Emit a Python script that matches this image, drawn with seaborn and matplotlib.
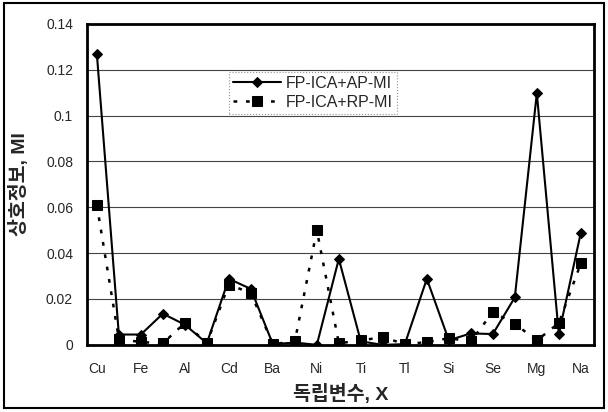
import numpy as np
import pandas as pd
import matplotlib
matplotlib.use("Agg")
import matplotlib.pyplot as plt
import seaborn as sns
from matplotlib.patches import Rectangle

# 독립변수 (every other one is labelled on the axis)
elements = ['Cu', 'Zn', 'Fe', 'Pb', 'Al', 'Cr', 'Cd', 'Mn', 'Ba', 'Co', 'Ni', 'Hg',
            'Ti', 'As', 'Tl', 'V', 'Si', 'Sb', 'Se', 'Ca', 'Mg', 'K', 'Na']
shown_labels = ['Cu', 'Fe', 'Al', 'Cd', 'Ba', 'Ni', 'Ti', 'Tl', 'Si', 'Se', 'Mg', 'Na']

ap_mi = [0.127, 0.0045, 0.0045, 0.0136, 0.0088, 0.0007, 0.0288, 0.0244, 0.0003, 0.001,
         0.0, 0.0375, 0.0015, 0.0, 0.0003, 0.0288, 0.002, 0.005, 0.0047, 0.0207,
         0.1098, 0.0047, 0.0489]
rp_mi = [0.061, 0.0026, 0.0012, 0.0007, 0.0095, 0.0007, 0.0263, 0.0226, 0.0003, 0.0015,
         0.050, 0.0007, 0.0019, 0.0034, 0.0003, 0.0012, 0.0029, 0.0015, 0.0143, 0.0092,
         0.0019, 0.0095, 0.0355]

y_ticks = [0, 0.02, 0.04, 0.06, 0.08, 0.1, 0.12, 0.14]
y_tick_labels = ['0', '0.02', '0.04', '0.06', '0.08', '0.1', '0.12', '0.14']

sns.set_style("white")
plt.rcParams['font.family'] = ['Liberation Sans', 'Noto Sans CJK KR', 'DejaVu Sans']

df = pd.DataFrame({'pos': np.arange(len(elements)), 'el': elements, 'ap': ap_mi, 'rp': rp_mi})

fig = plt.figure(figsize=(6.08, 4.12), dpi=100)
ax = fig.add_axes([0.143, 0.163, 0.834, 0.779])

for yv in y_ticks[1:-1]:
    ax.axhline(yv, color='#444444', lw=0.8, zorder=0)

sns.lineplot(data=df, x='pos', y='ap', ax=ax, color='black', lw=1.5, marker='D',
             markersize=5, markeredgecolor='black', label='FP-ICA+AP-MI', zorder=3)
sns.lineplot(data=df, x='pos', y='rp', ax=ax, color='black', lw=1.8, marker='s',
             markersize=7.5, markeredgecolor='black', linestyle=(0, (1.5, 3.5)),
             label='FP-ICA+RP-MI', zorder=2)

ax.set_xlim(-0.45, 22.6)
ax.set_ylim(0, 0.14)
ax.set_xticks(df['pos'][::2])
ax.set_xticklabels(shown_labels, fontsize=10)
ax.set_yticks(y_ticks)
ax.set_yticklabels(y_tick_labels, fontsize=10)
ax.tick_params(axis='x', length=0, pad=12)
ax.tick_params(axis='y', length=0, pad=10)

ax.set_xlabel('독립변수, X', fontsize=14, fontweight='bold', labelpad=6)
ax.set_ylabel('상호정보, MI', fontsize=14, fontweight='bold', labelpad=12)

for s in ax.spines.values():
    s.set_linewidth(2)
    s.set_color('black')

leg = ax.legend(loc='upper left', bbox_to_anchor=(0.265, 0.875), fontsize=11.5,
                frameon=True, fancybox=False, handlelength=3.0, borderpad=0.25,
                labelspacing=0.25, handletextpad=0.3)
leg.get_frame().set_edgecolor('#777777')
leg.get_frame().set_linestyle(':')
leg.get_frame().set_linewidth(0.8)

fig.patches.append(Rectangle((0.006, 0.01), 0.988, 0.982, transform=fig.transFigure,
                             fill=False, edgecolor='black', lw=1.5))

fig.savefig('out.png', dpi=100)
